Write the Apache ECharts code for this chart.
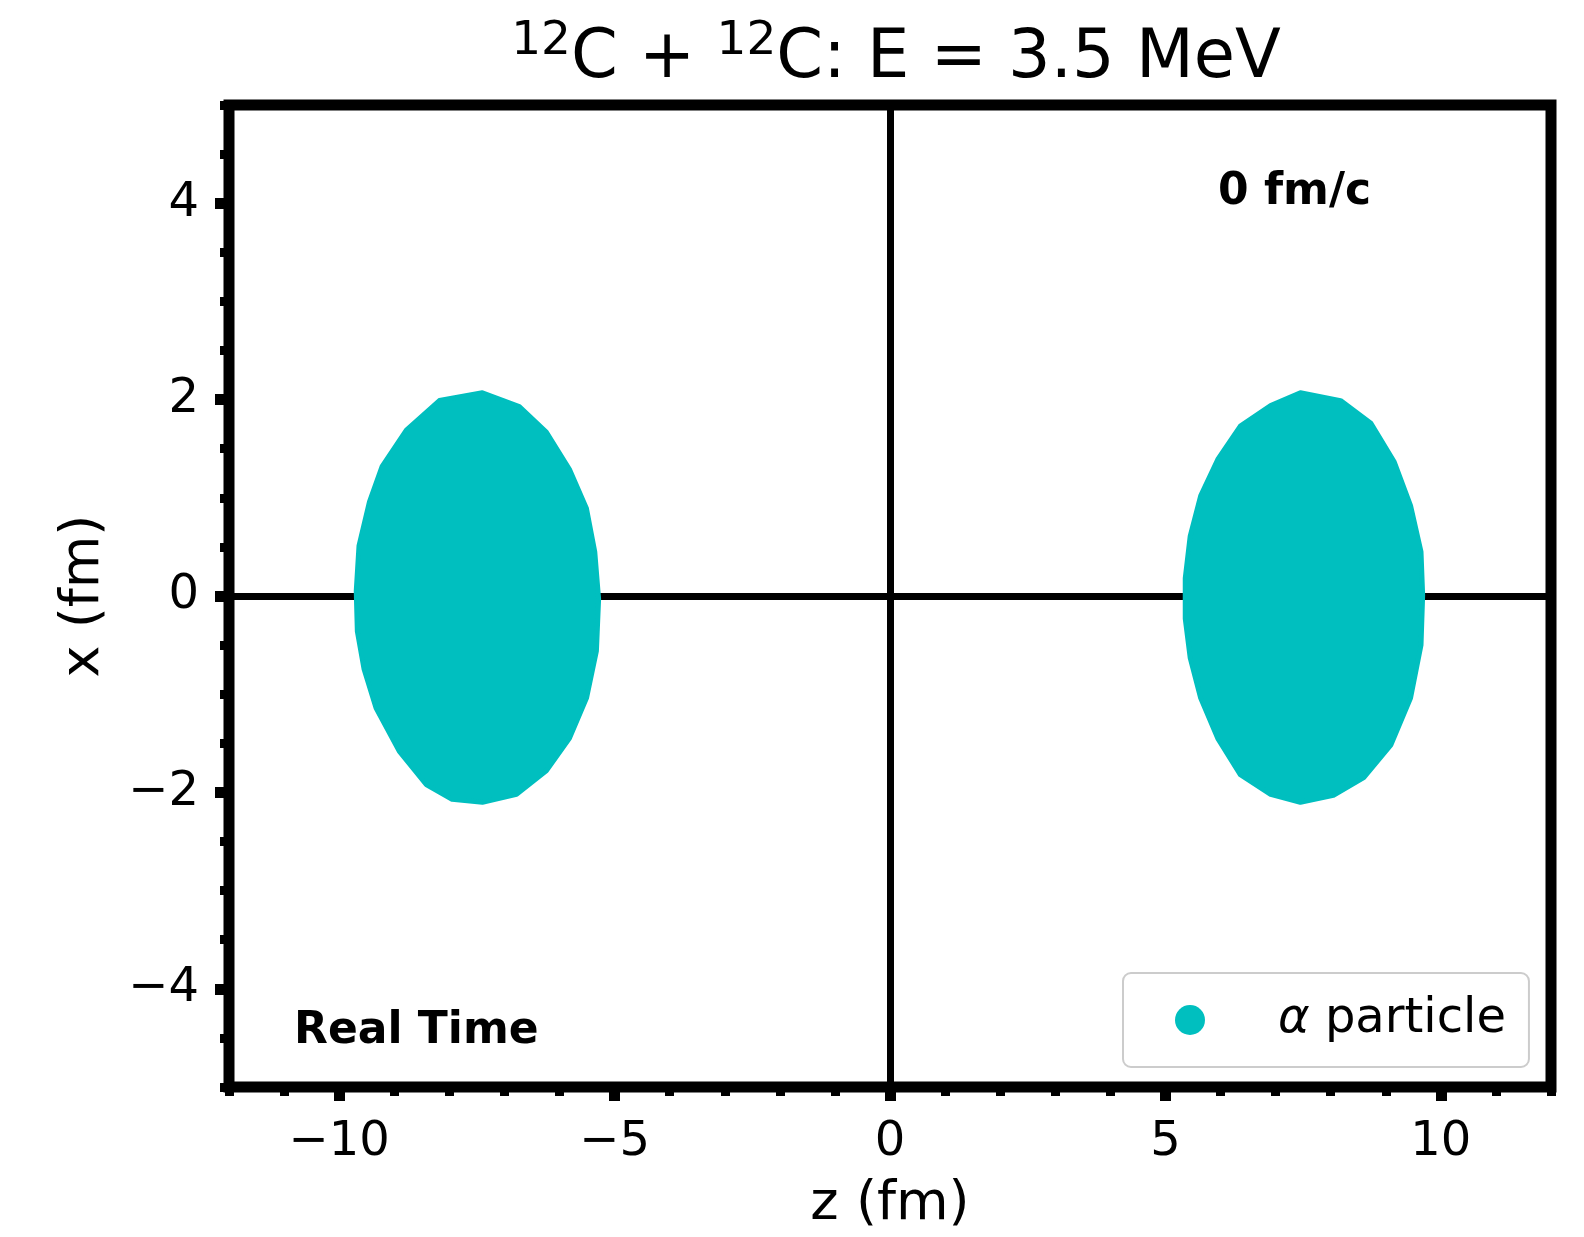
<!DOCTYPE html>
<html>
<head>
<meta charset="utf-8">
<script src="https://cdn.jsdelivr.net/npm/echarts@6/dist/echarts.min.js"></script>
<style>
html,body{margin:0;padding:0;background:#ffffff;}
#chart{width:1584px;height:1237px;}
</style>
</head>
<body>
<div id="chart"></div>
<script>
// ---- data ----
const xTickValues = [-10, -5, 0, 5, 10];
const yTickValues = [-4, -2, 0, 2, 4];
const seriesName = 'α particle';
const timeLabel = '0 fm/c';
const cornerLabel = 'Real Time';
// outline of the left alpha-particle cloud: [z (fm), x (fm)]
const leftCloud = [
  [-7.40, 2.07], [-8.18, 1.99], [-8.78, 1.69], [-9.22, 1.32], [-9.45, 0.96],
  [-9.64, 0.51], [-9.69, 0.05], [-9.67, -0.36], [-9.55, -0.74], [-9.33, -1.14],
  [-8.91, -1.58], [-8.42, -1.92], [-7.95, -2.07], [-7.40, -2.10], [-6.78, -2.02],
  [-6.24, -1.78], [-5.82, -1.45], [-5.51, -1.04], [-5.33, -0.56], [-5.29, -0.03],
  [-5.36, 0.45], [-5.51, 0.89], [-5.82, 1.29], [-6.24, 1.67], [-6.73, 1.93]
];
// outline of the right alpha-particle cloud: [z (fm), x (fm)]
const rightCloud = [
  [7.45, 2.07], [6.91, 1.94], [6.36, 1.73], [5.95, 1.39], [5.64, 1.02],
  [5.45, 0.61], [5.36, 0.18], [5.36, -0.23], [5.45, -0.63], [5.64, -1.04],
  [5.95, -1.45], [6.36, -1.82], [6.91, -2.02], [7.45, -2.10], [8.05, -2.03],
  [8.60, -1.85], [9.09, -1.52], [9.45, -1.04], [9.64, -0.50], [9.67, 0.01],
  [9.64, 0.45], [9.45, 0.92], [9.15, 1.37], [8.73, 1.76], [8.18, 1.99]
];

// ---- styling ----
const FONT = '"DejaVu Sans", "Liberation Sans", sans-serif';
const TEAL = '#00bfbf';
const fmt = v => (v < 0 ? '\u2212' + Math.abs(v) : String(v));

function cloudRenderer(points) {
  return function (params, api) {
    if (params.dataIndex !== 0) return null;
    const pts = points.map(p => api.coord(p));
    return {
      type: 'polygon',
      shape: { points: pts },
      style: { fill: TEAL, stroke: TEAL, lineWidth: 5, lineJoin: 'round' }
    };
  };
}

const chart = echarts.init(document.getElementById('chart'), null, { renderer: 'canvas' });
const option = {
  animation: false,
  backgroundColor: '#ffffff',
  title: {
    text: '{s|12}C + {s|12}C: E = 3.5 MeV',
    left: 891,
    top: 13,
    textAlign: 'center',
    textStyle: {
      fontFamily: FONT, fontSize: 67, fontWeight: 'normal', color: '#000', lineHeight: 84,
      rich: {
        s: { fontFamily: FONT, fontSize: 47, color: '#000', lineHeight: 47, verticalAlign: 'top' }
      }
    }
  },
  grid: {
    left: 229, top: 105, width: 1322, height: 985,
    show: true, borderColor: '#000', borderWidth: 11, backgroundColor: 'transparent'
  },
  legend: {
    data: [{ name: seriesName, icon: 'circle' }],
    left: 1123, top: 973,
    itemWidth: 30, itemHeight: 30,
    padding: [22, 23, 22, 52],
    backgroundColor: '#ffffff', borderColor: '#cccccc', borderWidth: 2, borderRadius: 8,
    selectedMode: false,
    formatter: () => '{a|α}{b| particle}',
    textStyle: {
      fontFamily: FONT, fontSize: 48, color: '#000', lineHeight: 50,
      rich: {
        a: { fontFamily: FONT, fontSize: 48, fontStyle: 'italic', color: '#000', lineHeight: 50, padding: [0, 0, 0, 68] },
        b: { fontFamily: FONT, fontSize: 48, color: '#000', lineHeight: 50 }
      }
    }
  },
  xAxis: [
    {
      type: 'value', min: -12, max: 12, position: 'bottom',
      axisLine: { show: false, onZero: false }, splitLine: { show: false },
      axisTick: { show: true, customValues: xTickValues, length: 14, lineStyle: { color: '#000', width: 11 } },
      axisLabel: { customValues: xTickValues, fontFamily: FONT, fontSize: 48, color: '#000', margin: 32, formatter: fmt },
      name: 'z (fm)', nameLocation: 'middle', nameGap: 91,
      nameTextStyle: { fontFamily: FONT, fontSize: 54, color: '#000' }
    },
    {
      type: 'value', min: -12, max: 12, interval: 1, position: 'bottom',
      axisLine: { show: false, onZero: false }, splitLine: { show: false }, axisLabel: { show: false },
      axisTick: { show: true, length: 9, lineStyle: { color: '#000', width: 9 } }
    }
  ],
  yAxis: [
    {
      type: 'value', min: -5, max: 5, position: 'left',
      axisLine: { show: false, onZero: false }, splitLine: { show: false },
      axisTick: { show: true, customValues: yTickValues, length: 14, lineStyle: { color: '#000', width: 11 } },
      axisLabel: { customValues: yTickValues, fontFamily: FONT, fontSize: 48, color: '#000', margin: 30, formatter: fmt },
      name: 'x (fm)', nameLocation: 'middle', nameGap: 118,
      nameTextStyle: { fontFamily: FONT, fontSize: 54, color: '#000' }
    },
    {
      type: 'value', min: -5, max: 5, interval: 0.5, position: 'left',
      axisLine: { show: false, onZero: false }, splitLine: { show: false }, axisLabel: { show: false },
      axisTick: { show: true, length: 9, lineStyle: { color: '#000', width: 9 } }
    }
  ],
  graphic: [
    { type: 'text', x: 1218, y: 193, z: 20,
      style: { text: timeLabel, fill: '#000', font: 'bold 44px ' + FONT, textAlign: 'left', textVerticalAlign: 'middle' } },
    { type: 'text', x: 294, y: 1032, z: 20,
      style: { text: cornerLabel, fill: '#000', font: 'bold 44px ' + FONT, textAlign: 'left', textVerticalAlign: 'middle' } }
  ],
  series: [
    {
      type: 'line', name: 'zero lines', data: [], xAxisIndex: 0, yAxisIndex: 0,
      markLine: {
        silent: true, symbol: ['none', 'none'], label: { show: false }, z: 3,
        lineStyle: { color: '#000', width: 7, type: 'solid' },
        emphasis: { disabled: true },
        data: [{ xAxis: 0 }, { yAxis: 0 }]
      }
    },
    {
      type: 'custom', name: seriesName, xAxisIndex: 0, yAxisIndex: 0, z: 10,
      itemStyle: { color: TEAL },
      renderItem: cloudRenderer(leftCloud), data: leftCloud
    },
    {
      type: 'custom', name: seriesName, xAxisIndex: 0, yAxisIndex: 0, z: 10,
      itemStyle: { color: TEAL },
      renderItem: cloudRenderer(rightCloud), data: rightCloud
    }
  ]
};
chart.setOption(option);
</script>
</body>
</html>
